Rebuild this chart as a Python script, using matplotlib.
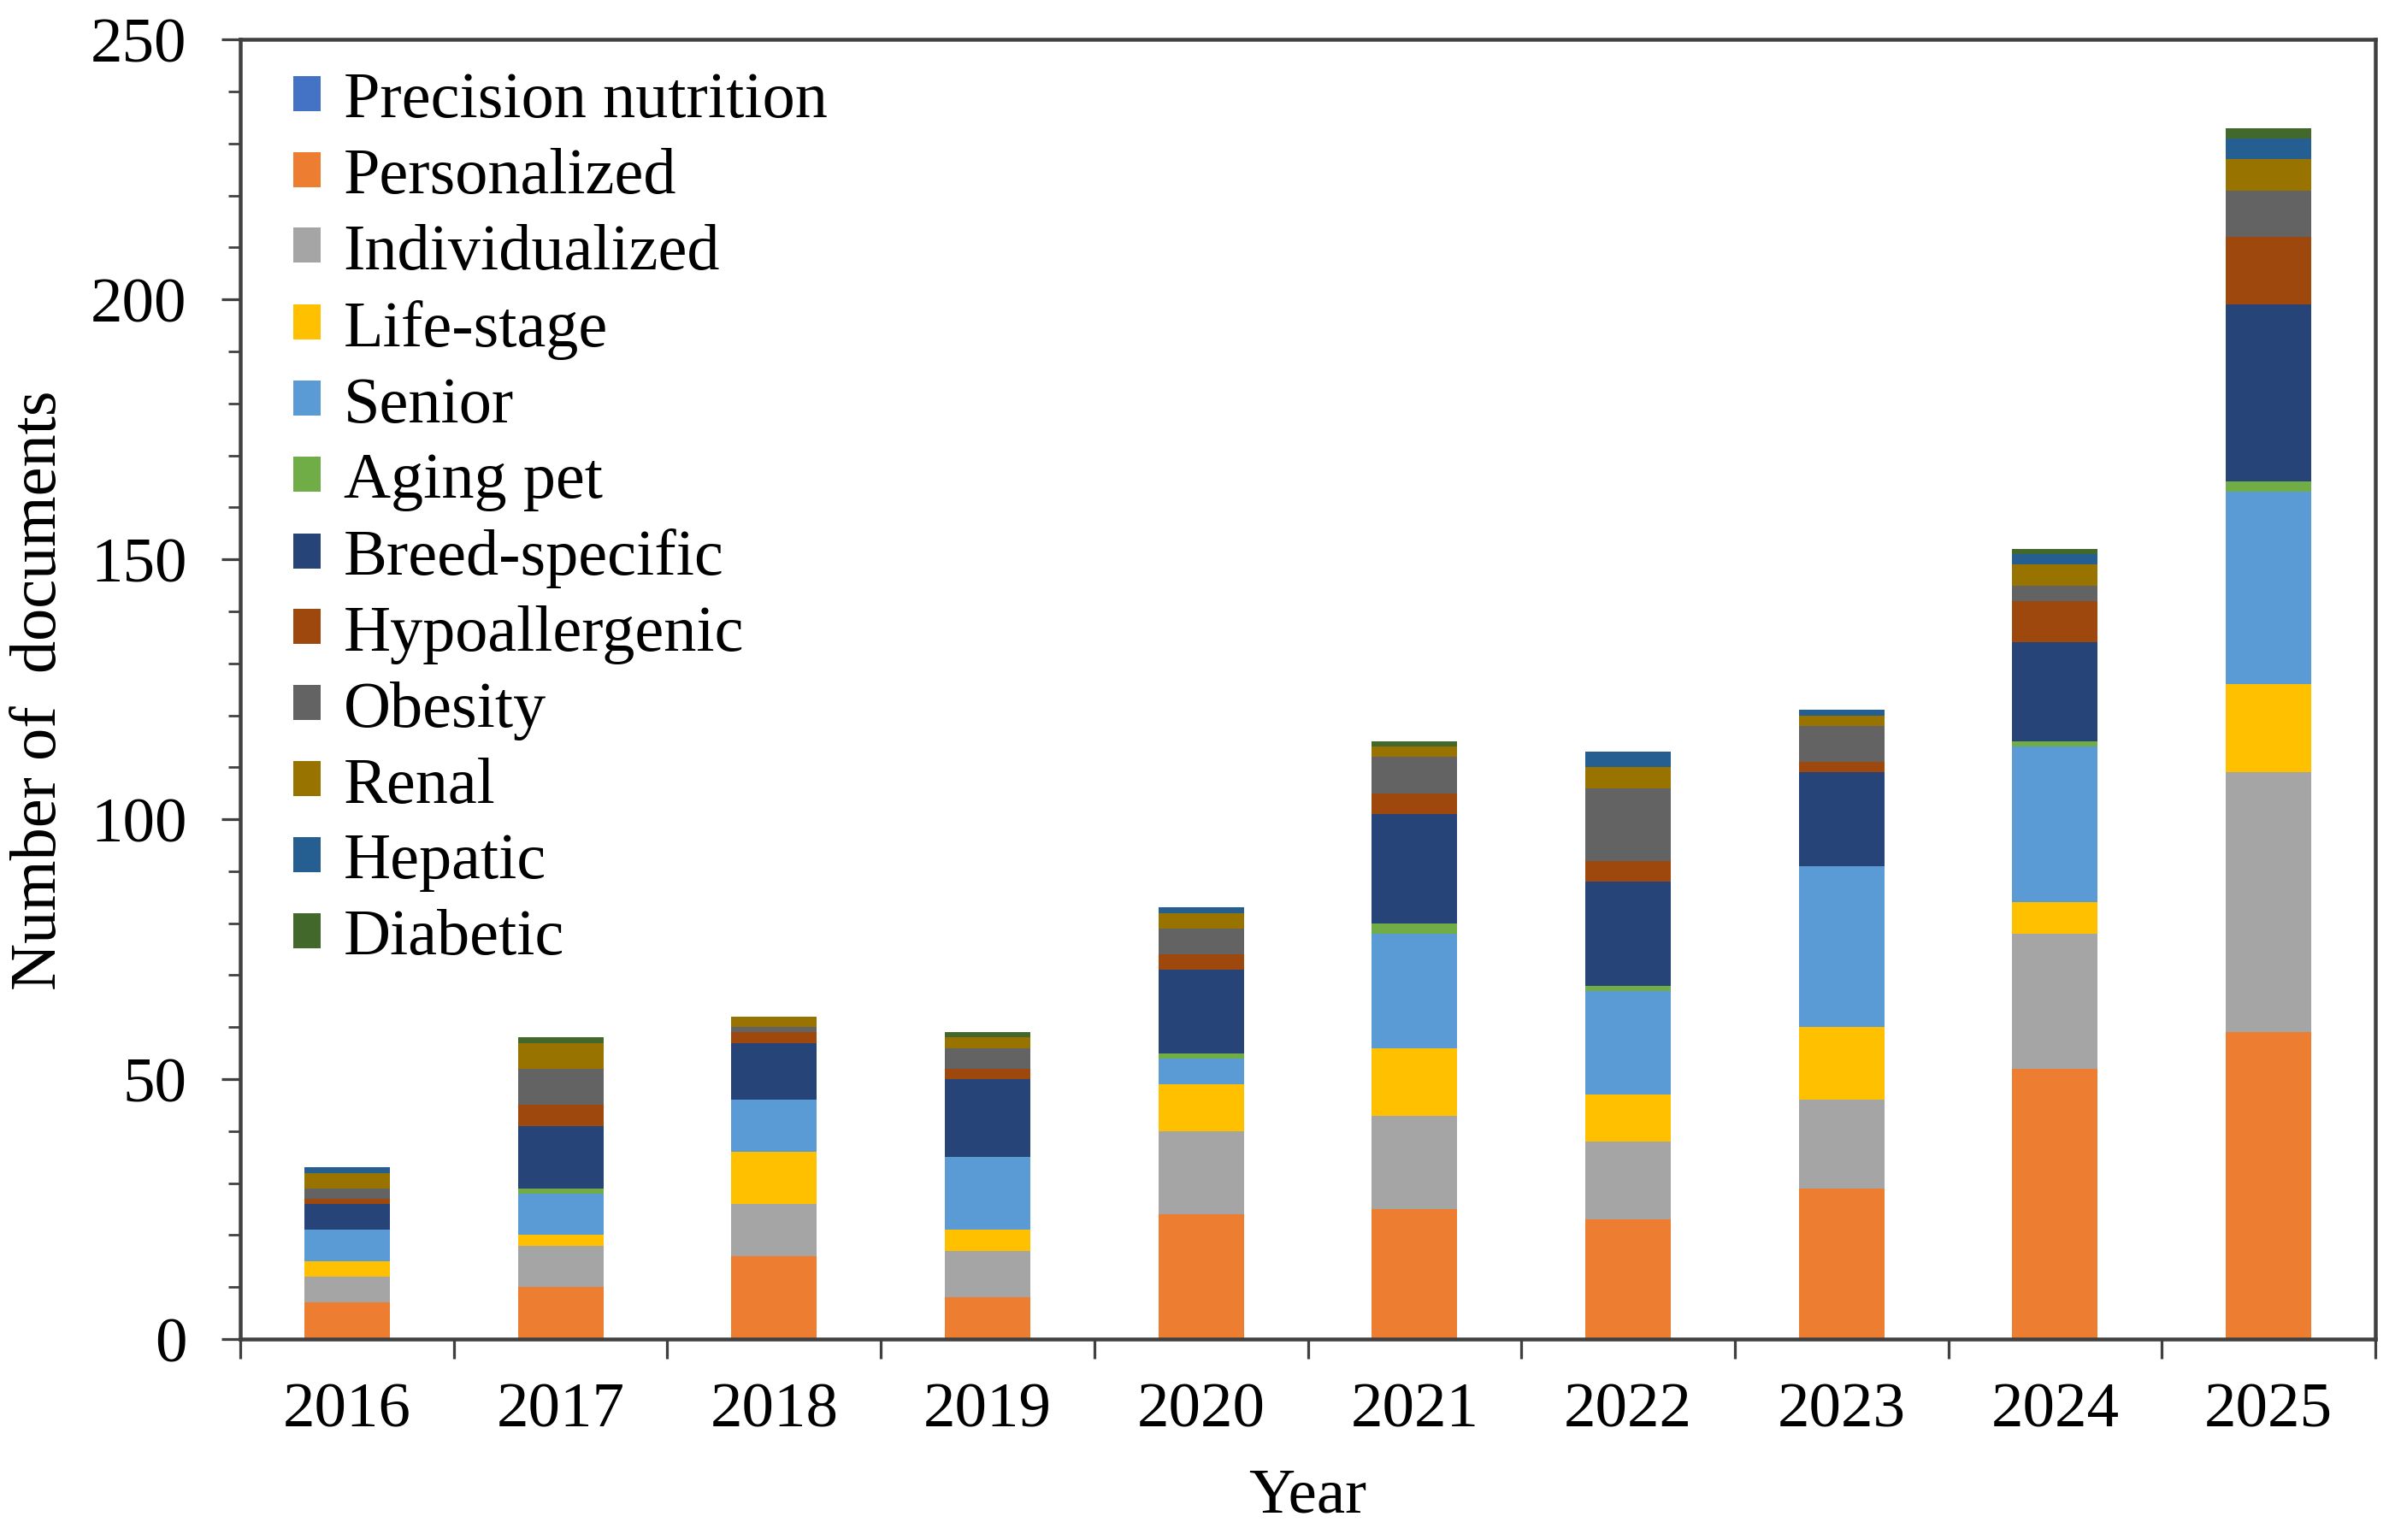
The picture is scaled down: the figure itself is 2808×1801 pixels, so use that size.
import numpy as np
import matplotlib
matplotlib.use('Agg')
import matplotlib.pyplot as plt
import matplotlib.ticker as ticker

years = ['2016', '2017', '2018', '2019', '2020', '2021', '2022', '2023', '2024', '2025']

labels = ['Precision nutrition', 'Personalized', 'Individualized', 'Life-stage', 'Senior',
          'Aging pet', 'Breed-specific', 'Hypoallergenic', 'Obesity', 'Renal', 'Hepatic', 'Diabetic']

colors = ['#4472C4', '#ED7D31', '#A5A5A5', '#FFC000', '#5B9BD5', '#70AD47',
          '#264478', '#9E480E', '#636363', '#997300', '#255E91', '#43682B']

precision = [0, 0, 0, 0, 0, 0, 0, 0, 0, 0]
personalized = [7, 10, 16, 8, 24, 25, 23, 29, 52, 59]
individualized = [5, 8, 10, 9, 16, 18, 15, 17, 26, 50]
life_stage = [3, 2, 10, 4, 9, 13, 9, 14, 6, 17]
senior = [6, 8, 10, 14, 5, 22, 20, 31, 30, 37]
aging_pet = [0, 1, 0, 0, 1, 2, 1, 0, 1, 2]
breed = [5, 12, 11, 15, 16, 21, 20, 18, 19, 34]
hypoallergenic = [1, 4, 2, 2, 3, 4, 4, 2, 8, 13]
obesity = [2, 7, 1, 4, 5, 7, 14, 7, 3, 9]
renal = [3, 5, 2, 2, 3, 2, 4, 2, 4, 6]
hepatic = [1, 0, 0, 0, 1, 0, 3, 1, 2, 4]
diabetic = [0, 1, 0, 1, 0, 1, 0, 0, 1, 2]

series = [precision, personalized, individualized, life_stage, senior, aging_pet,
          breed, hypoallergenic, obesity, renal, hepatic, diabetic]

plt.rcParams['font.family'] = ['Liberation Serif', 'DejaVu Serif']

fig = plt.figure(figsize=(15.6, 10.01), dpi=180)
ax = fig.add_axes([0.1001, 0.1304, 0.8892, 0.8435])

x = np.arange(len(years))
bottom = np.zeros(len(years))
for vals, lab, col in zip(series, labels, colors):
    ax.bar(x, vals, width=0.40, bottom=bottom, color=col, label=lab)
    bottom += np.array(vals)

ax.set_xlim(-0.5, len(years) - 0.5)
ax.set_ylim(0, 250)
ax.yaxis.set_major_locator(ticker.MultipleLocator(50))
ax.yaxis.set_minor_locator(ticker.MultipleLocator(10))

ax.set_xticks(x)
ax.set_xticklabels(years)
ax.set_xticks(np.arange(-0.5, len(years)), minor=True)
ax.tick_params(axis='x', which='major', length=0, pad=20, labelsize=30)
ax.tick_params(axis='x', which='minor', length=9, width=1.3, color='#404040')
ax.tick_params(axis='y', which='major', length=9, width=1.3, color='#404040', labelsize=30, pad=16)
ax.tick_params(axis='y', which='minor', length=5.5, width=1.1, color='#404040')

for s in ax.spines.values():
    s.set_linewidth(1.8)
    s.set_color('#404040')

ax.set_ylabel('Number of  documents', fontsize=30.5, labelpad=10)
ax.set_xlabel('Year', fontsize=30, labelpad=13)

ax.legend(loc='upper left', bbox_to_anchor=(0.0064, 1.0056), frameon=False, fontsize=30.5,
          handlelength=0.42, handleheight=0.45, handletextpad=0.35, labelspacing=0.26,
          borderaxespad=0.2)

plt.savefig('out.png', dpi=180)
